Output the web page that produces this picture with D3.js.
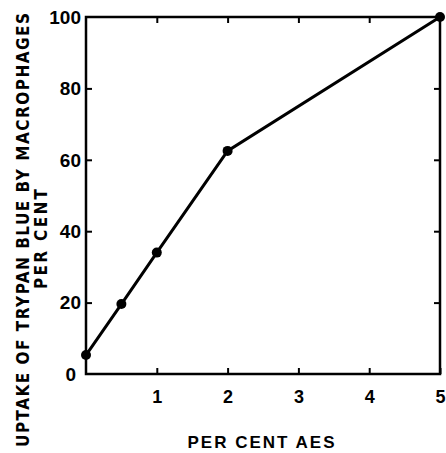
<!DOCTYPE html>
<html lang="en">
  <head>
    <meta charset="UTF-8" />
    <title>Uptake of trypan blue</title>
    <style>
      body {
        margin: 0;
        background: #fff;
      }
      text {
        font-family: "Liberation Sans", Arial, sans-serif;
        font-weight: bold;
        fill: #000;
      }
      text.ytitle {
        font-family: "DejaVu Sans Condensed", "DejaVu Sans", sans-serif;
        font-stretch: condensed;
      }
    </style>
  </head>
  <body>
    <svg id="chart" width="446" height="453"></svg>
    <script src="https://cdn.jsdelivr.net/npm/d3@7"></script>
    <script>
      const aes = [0, 0.5, 1, 2, 5];
      const uptake = [5.3, 19.6, 34, 62.5, 100];
      const xTicks = [1, 2, 3, 4, 5];
      const yTicks = [0, 20, 40, 60, 80, 100];

      const svg = d3.select("#chart");
      const mLeft = 86, mRight = 440, mTop = 17, mBottom = 374;

      const x = d3.scaleLinear().domain([0, 5]).range([mLeft, mRight]);
      const y = d3.scaleLinear().domain([0, 100]).range([mBottom, mTop]);

      // frame
      svg.append("rect")
        .attr("x", mLeft).attr("y", mTop)
        .attr("width", mRight - mLeft).attr("height", mBottom - mTop)
        .attr("fill", "none").attr("stroke", "#000").attr("stroke-width", 2.5);

      // inward ticks on all four sides
      const tickStyle = g => {
        g.select(".domain").remove();
        g.selectAll(".tick line").attr("stroke", "#000").attr("stroke-width", 2);
      };

      svg.append("g")
        .attr("transform", `translate(0,${mBottom})`)
        .call(d3.axisBottom(x).tickValues(xTicks).tickSize(-6).tickPadding(16)
          .tickFormat(d3.format("d")))
        .call(tickStyle)
        .call(g => g.selectAll(".tick text").attr("font-size", 18));

      svg.append("g")
        .attr("transform", `translate(0,${mTop})`)
        .call(d3.axisTop(x).tickValues(xTicks.slice(0, 4)).tickSize(-6).tickFormat(""))
        .call(tickStyle);

      svg.append("g")
        .attr("transform", `translate(${mLeft},0)`)
        .call(d3.axisLeft(y).tickValues(yTicks.slice(1, 5)).tickSize(-6).tickFormat(""))
        .call(tickStyle);

      svg.append("g")
        .attr("transform", `translate(${mRight},0)`)
        .call(d3.axisRight(y).tickValues(yTicks.slice(1, 5)).tickSize(-6).tickFormat(""))
        .call(tickStyle);

      // y tick labels
      svg.append("g")
        .selectAll("text")
        .data(yTicks)
        .join("text")
        .attr("x", d => (d === 0 ? mLeft - 10 : mLeft - 5))
        .attr("y", d => y(d))
        .attr("dy", "0.36em")
        .attr("text-anchor", "end")
        .attr("font-size", 19)
        .text(d => d);

      // data line and points
      const pts = aes.map((a, i) => [a, uptake[i]]);
      svg.append("path")
        .datum(pts)
        .attr("fill", "none")
        .attr("stroke", "#000")
        .attr("stroke-width", 3)
        .attr("d", d3.line().x(d => x(d[0])).y(d => y(d[1])));

      svg.append("g")
        .selectAll("circle")
        .data(pts)
        .join("circle")
        .attr("cx", d => x(d[0]))
        .attr("cy", d => y(d[1]))
        .attr("r", 5)
        .attr("fill", "#000");

      // axis titles
      svg.append("text")
        .attr("x", 262).attr("y", 448)
        .attr("text-anchor", "middle")
        .attr("font-size", 17)
        .attr("letter-spacing", 2)
        .text("PER CENT AES");

      svg.append("text")
        .attr("class", "ytitle")
        .attr("transform", "translate(29,230) rotate(-90)")
        .attr("text-anchor", "middle")
        .attr("font-size", 17)
        .attr("textLength", 434)
        .attr("lengthAdjust", "spacing")
        .text("UPTAKE OF TRYPAN BLUE BY MACROPHAGES");

      svg.append("text")
        .attr("class", "ytitle")
        .attr("transform", "translate(47,239) rotate(-90)")
        .attr("text-anchor", "middle")
        .attr("font-size", 17)
        .attr("textLength", 100)
        .attr("lengthAdjust", "spacing")
        .text("PER CENT");
    </script>
  </body>
</html>
